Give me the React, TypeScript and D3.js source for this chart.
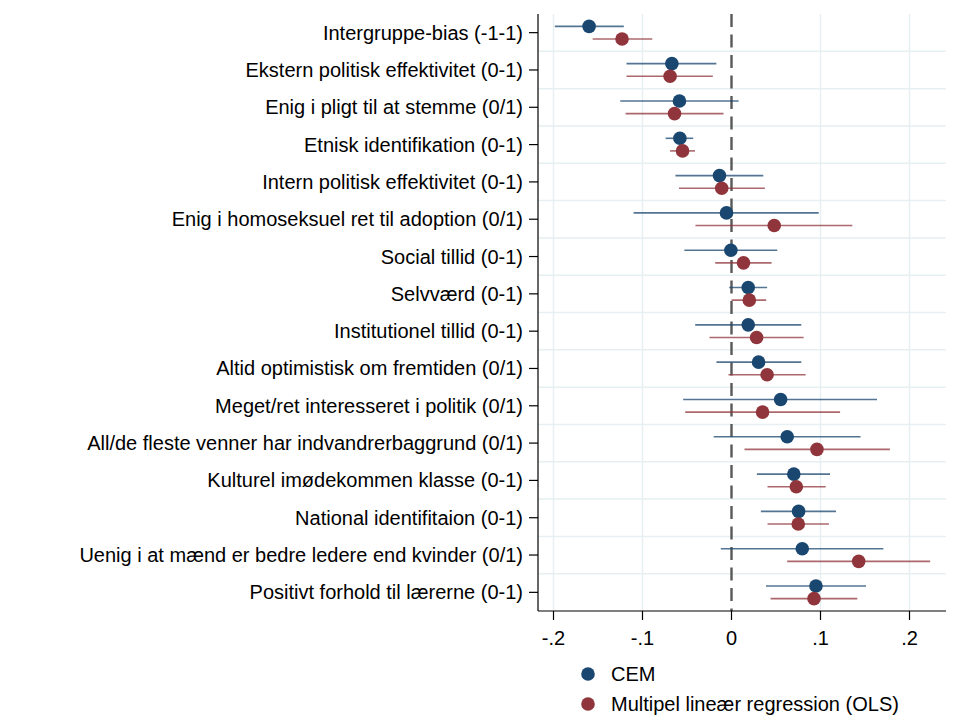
import React from "react";
import * as d3 from "d3";

const categories = [
  "Intergruppe-bias (-1-1)",
  "Ekstern politisk effektivitet (0-1)",
  "Enig i pligt til at stemme (0/1)",
  "Etnisk identifikation (0-1)",
  "Intern politisk effektivitet (0-1)",
  "Enig i homoseksuel ret til adoption (0/1)",
  "Social tillid (0-1)",
  "Selvværd (0-1)",
  "Institutionel tillid (0-1)",
  "Altid optimistisk om fremtiden (0/1)",
  "Meget/ret interesseret i politik (0/1)",
  "All/de fleste venner har indvandrerbaggrund (0/1)",
  "Kulturel imødekommen klasse (0-1)",
  "National identifitaion (0-1)",
  "Uenig i at mænd er bedre ledere end kvinder (0/1)",
  "Positivt forhold til lærerne (0-1)",
];

const cemEst = [-0.160, -0.067, -0.0585, -0.058, -0.0135, -0.0056, -0.0007, 0.0188, 0.0188, 0.0304, 0.0552, 0.0626, 0.070, 0.0754, 0.0795, 0.0949];
const cemLo = [-0.1985, -0.118, -0.125, -0.074, -0.063, -0.110, -0.053, -0.0026, -0.0408, -0.0169, -0.0543, -0.020, 0.0285, 0.033, -0.012, 0.0387];
const cemHi = [-0.121, -0.017, 0.008, -0.043, 0.0357, 0.098, 0.0514, 0.040, 0.0784, 0.0784, 0.1635, 0.145, 0.1107, 0.1174, 0.1706, 0.1512];

const olsEst = [-0.123, -0.069, -0.064, -0.055, -0.011, 0.048, 0.0135, 0.020, 0.0282, 0.040, 0.0349, 0.096, 0.0728, 0.075, 0.1429, 0.0927];
const olsLo = [-0.156, -0.118, -0.119, -0.069, -0.059, -0.0405, -0.0183, 0.0, -0.0247, -0.0034, -0.052, 0.0146, 0.0405, 0.0405, 0.0626, 0.0439];
const olsHi = [-0.089, -0.021, -0.009, -0.041, 0.0375, 0.1358, 0.045, 0.039, 0.081, 0.0833, 0.122, 0.178, 0.1058, 0.1095, 0.2232, 0.1414];

const xTicks = [-0.2, -0.1, 0, 0.1, 0.2];
const xTickLabels = ["-.2", "-.1", "0", ".1", ".2"];
const seriesNames = ["CEM", "Multipel lineær regression (OLS)"];

const NAVY = "#1a476f";
const MAROON = "#90353b";
const GRID = "#e6eff1";
const FONT = "Liberation Sans, Arial, sans-serif";
const FS = 20;

export default function App() {
  const W = 979, H = 718;
  const left = 538, right = 946, top = 14, bottom = 611;
  const x = d3.scaleLinear().domain([0, 0.1]).range([731.5, 820.5]);
  const y = d3.scaleBand<string>().domain(categories).range([top, bottom]).padding(0);
  const bw = y.bandwidth();
  const off = 6.3;

  const series = [
    { est: cemEst, lo: cemLo, hi: cemHi, color: NAVY, dy: -off },
    { est: olsEst, lo: olsLo, hi: olsHi, color: MAROON, dy: off },
  ];

  return (
    <svg width={W} height={H} style={{ display: "block", position: "absolute", left: 0, top: 0 }} fontFamily={FONT}>
      <rect width={W} height={H} fill="#fff" />
      {xTicks.filter((t) => t !== 0).map((t) => (
        <line key={"vg" + t} x1={x(t)} x2={x(t)} y1={top} y2={bottom} stroke={GRID} strokeWidth={1.5} />
      ))}
      {categories.slice(1).map((c) => (
        <line key={"hg" + c} x1={left} x2={right} y1={y(c)!} y2={y(c)!} stroke={GRID} strokeWidth={1.5} />
      ))}
      <line x1={x(0)} x2={x(0)} y1={top} y2={bottom} stroke="#595959" strokeWidth={2.4} strokeDasharray="13,7.5" />
      {series.map((s, si) => (
        <g key={"s" + si}>
          {categories.map((c, i) => {
            const cy = y(c)! + bw / 2 + s.dy;
            return (
              <line key={c} x1={x(s.lo[i])} x2={x(s.hi[i])} y1={cy} y2={cy} stroke={s.color} strokeOpacity={0.75} strokeWidth={1.6} />
            );
          })}
        </g>
      ))}
      {series.map((s, si) => (
        <g key={"p" + si}>
          {categories.map((c, i) => (
            <circle key={c} cx={x(s.est[i])} cy={y(c)! + bw / 2 + s.dy} r={6.8} fill={s.color} />
          ))}
        </g>
      ))}
      <line x1={left} x2={left} y1={top} y2={bottom} stroke="#000" strokeWidth={1.2} />
      <line x1={left} x2={right} y1={bottom} y2={bottom} stroke="#000" strokeWidth={1.2} />
      {categories.map((c) => {
        const cy = y(c)! + bw / 2;
        return (
          <g key={"yl" + c}>
            <line x1={left - 9} x2={left} y1={cy} y2={cy} stroke="#000" strokeWidth={1.2} />
            <text x={left - 15} y={cy} textAnchor="end" dominantBaseline="central" fontSize={FS} fill="#000">{c}</text>
          </g>
        );
      })}
      {xTicks.map((t, i) => (
        <g key={"xt" + t}>
          <line x1={x(t)} x2={x(t)} y1={bottom} y2={bottom + 9} stroke="#000" strokeWidth={1.2} />
          <text x={x(t)} y={bottom + 27} textAnchor="middle" dominantBaseline="central" fontSize={FS} fill="#000">{xTickLabels[i]}</text>
        </g>
      ))}
      {seriesNames.map((n, i) => (
        <g key={"lg" + n}>
          <circle cx={588} cy={674 + i * 30} r={6.8} fill={i === 0 ? NAVY : MAROON} />
          <text x={611} y={674 + i * 30} dominantBaseline="central" fontSize={FS} fill="#000">{n}</text>
        </g>
      ))}
    </svg>
  );
}
